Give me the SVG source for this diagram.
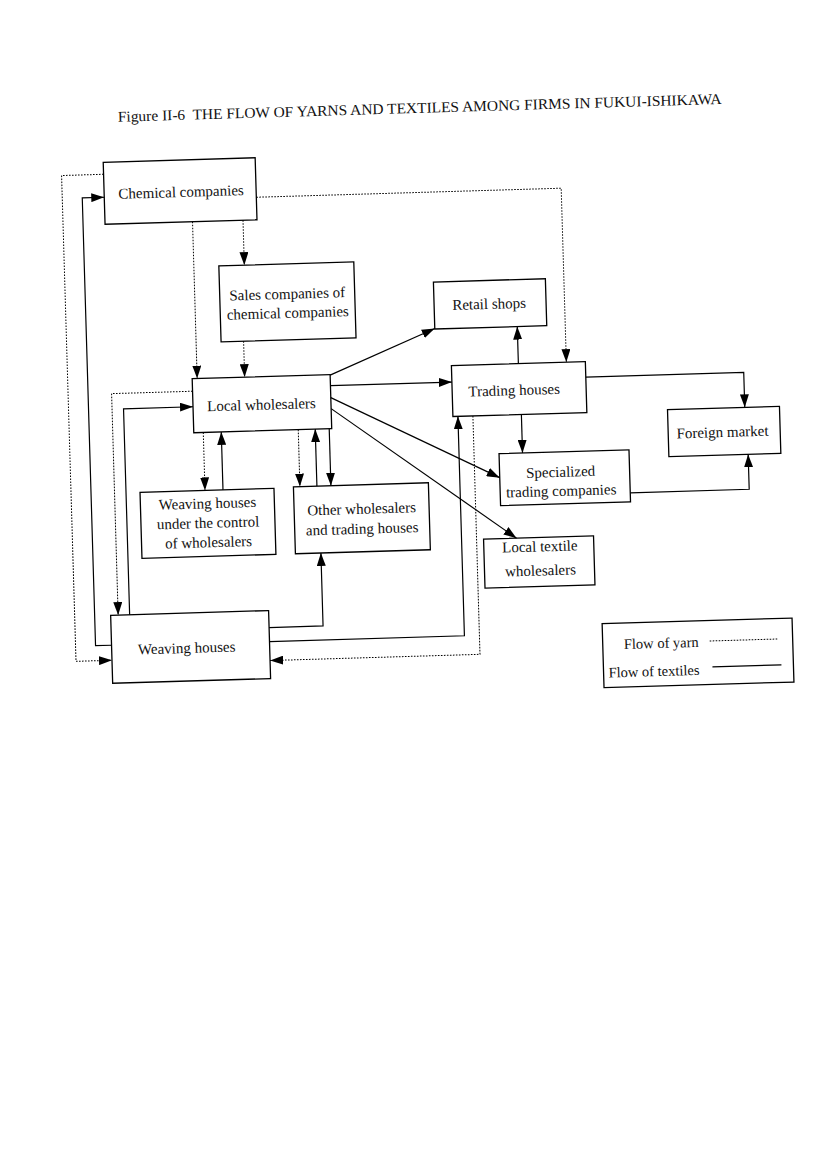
<svg xmlns="http://www.w3.org/2000/svg" width="827" height="1170" viewBox="0 0 827 1170">
<defs>
<style>
.bx{fill:none;stroke:#000;stroke-width:1.3}
.t{font-family:"Liberation Serif","Times New Roman",serif;font-size:15px;fill:#111;text-anchor:middle}
.y{fill:none;stroke:#000;stroke-width:1;stroke-dasharray:1.6 1.4}
.s{fill:none;stroke:#000;stroke-width:1.2}
</style>
<marker id="ah" markerWidth="13" markerHeight="9" refX="13" refY="4.5" orient="auto" markerUnits="userSpaceOnUse"><path d="M0,0 L13,4.5 L0,9 z" fill="#000"/></marker>
</defs>
<rect width="827" height="1170" fill="#fff"/>
<g transform="rotate(-1.7 420 420)">
<text x="127" y="113" xml:space="preserve" style="font-family:'Liberation Serif','Times New Roman',serif;font-size:15px;fill:#111" textLength="604" lengthAdjust="spacingAndGlyphs">Figure II-6  THE FLOW OF YARNS AND TEXTILES AMONG FIRMS IN FUKUI-ISHIKAWA</text>

<g id="connectors">
<path class="y" d="M263,192.5 H568 V366.5" marker-end="url(#ah)"/>
<path class="y" d="M198.5,215 V372" marker-end="url(#ah)"/>
<path class="y" d="M249,215 V260" marker-end="url(#ah)"/>
<path class="y" d="M246,336 V372" marker-end="url(#ah)"/>
<path class="y" d="M111,165 H69 V651 H105" marker-end="url(#ah)"/>
<path class="y" d="M193.5,384.5 H112.5 V606" marker-end="url(#ah)"/>
<path class="y" d="M203,426 V484" marker-end="url(#ah)"/>
<path class="y" d="M298,426 V483" marker-end="url(#ah)"/>
<path class="y" d="M473,417.5 V656 H263" marker-end="url(#ah)"/>

<path class="s" d="M124,606 V400 H193.5" marker-end="url(#ah)"/>
<path class="s" d="M105,636 H89 V188 H111" marker-end="url(#ah)"/>
<path class="s" d="M221,484 V426" marker-end="url(#ah)"/>
<path class="s" d="M315,483 V426" marker-end="url(#ah)"/>
<path class="s" d="M329,426 V483" marker-end="url(#ah)"/>
<path class="s" d="M263,623 H317 V550" marker-end="url(#ah)"/>
<path class="s" d="M263,637 H458 V417.5" marker-end="url(#ah)"/>
<path class="s" d="M331.5,372.5 L437.5,329" marker-end="url(#ah)"/>
<path class="s" d="M331.5,383 H453" marker-end="url(#ah)"/>
<path class="s" d="M331.5,395 L498,480" marker-end="url(#ah)"/>
<path class="s" d="M331.5,406 L513,541" marker-end="url(#ah)"/>
<path class="s" d="M520,366.5 V329.5" marker-end="url(#ah)"/>
<path class="s" d="M521.5,417.5 V456" marker-end="url(#ah)"/>
<path class="s" d="M587,382 H745 V417" marker-end="url(#ah)"/>
<path class="s" d="M628,499 H747 V464" marker-end="url(#ah)"/>
</g>

<g id="chemical">
<rect class="bx" x="111" y="153" width="152" height="62"/>
<text class="t" x="188" y="190">Chemical companies</text>
</g>
<g id="sales">
<rect class="bx" x="223.5" y="260" width="135" height="76"/>
<text class="t" x="291" y="295">Sales companies of</text>
<text class="t" x="291" y="314">chemical companies</text>
</g>
<g id="local-wholesalers">
<rect class="bx" x="193.5" y="372" width="138" height="54"/>
<text class="t" x="262" y="405">Local wholesalers</text>
</g>
<g id="weaving-control">
<rect class="bx" x="138" y="484" width="134" height="66"/>
<text class="t" x="205" y="502">Weaving houses</text>
<text class="t" x="205" y="521.5">under the control</text>
<text class="t" x="205" y="541">of wholesalers</text>
</g>
<g id="other-wholesalers">
<rect class="bx" x="291.5" y="483" width="135" height="67"/>
<text class="t" x="359" y="512">Other wholesalers</text>
<text class="t" x="359" y="532">and trading houses</text>
</g>
<g id="weaving-houses">
<rect class="bx" x="105" y="606" width="158" height="68"/>
<text class="t" x="180" y="646">Weaving houses</text>
</g>
<g id="retail">
<rect class="bx" x="437.5" y="282.5" width="112" height="47"/>
<text class="t" x="492.5" y="311">Retail shops</text>
</g>
<g id="trading">
<rect class="bx" x="453" y="366.5" width="134" height="51"/>
<text class="t" x="515" y="398">Trading houses</text>
</g>
<g id="foreign">
<rect class="bx" x="667.7" y="417" width="112" height="47"/>
<text class="t" x="722" y="446">Foreign market</text>
</g>
<g id="specialized">
<rect class="bx" x="498" y="456" width="130" height="52"/>
<text class="t" x="559" y="481">Specialized</text>
<text class="t" x="559" y="500">trading companies</text>
</g>
<g id="local-textile">
<rect class="bx" x="480" y="541" width="110" height="49"/>
<text class="t" x="536" y="555">Local textile</text>
<text class="t" x="536" y="579">wholesalers</text>
</g>
<g id="legend">
<rect class="bx" x="596" y="629" width="190" height="64"/>
<text class="t" x="692" y="655" style="text-anchor:end;font-size:14.5px">Flow of yarn</text>
<text class="t" x="692" y="683" style="text-anchor:end;font-size:14.5px">Flow of textiles</text>
<line class="y" x1="703" y1="649.5" x2="771" y2="649.5"/>
<line class="s" x1="705" y1="675.5" x2="774" y2="675.5"/>
</g>
</g>
</svg>
